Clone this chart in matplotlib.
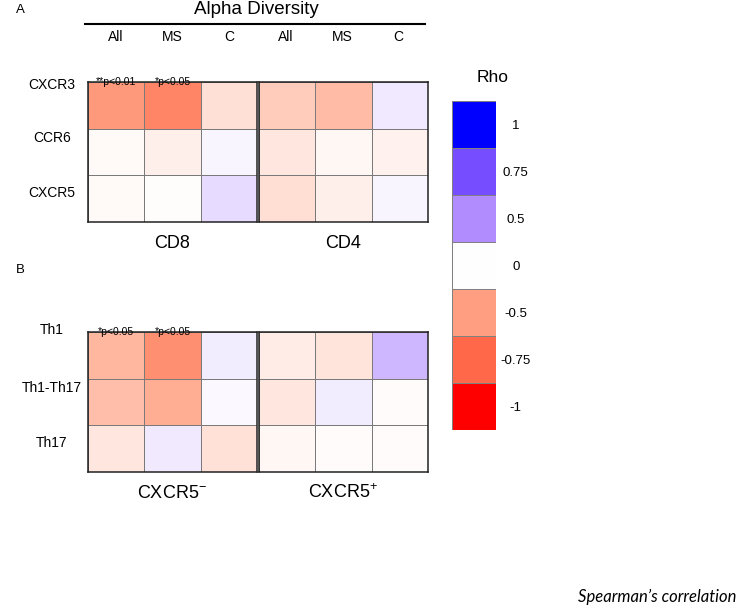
import matplotlib
matplotlib.use("Agg")
import matplotlib.pyplot as plt
from matplotlib.colors import LinearSegmentedColormap
import numpy as np

plt.rcParams['font.family'] = ['Liberation Sans', 'DejaVu Sans']

# data (Spearman rho)
cols = ['All', 'MS', 'C']
rows_a = ['CXCR3', 'CCR6', 'CXCR5']
cd8 = [[-0.52, -0.61, -0.16],
       [-0.03, -0.08, 0.04],
       [-0.03, -0.01, 0.15]]
cd4 = [[-0.27, -0.35, 0.10],
       [-0.13, -0.04, -0.07],
       [-0.17, -0.08, 0.04]]
rows_b = ['Th1', 'Th1-Th17', 'Th17']
cxcr5_neg = [[-0.37, -0.57, 0.08],
             [-0.33, -0.42, 0.03],
             [-0.12, 0.09, -0.15]]
cxcr5_pos = [[-0.10, -0.14, 0.32],
             [-0.12, 0.08, -0.02],
             [-0.04, -0.02, -0.02]]
sig_a = {(0, 0): '**p<0.01', (0, 1): '*p<0.05'}
sig_b = {(0, 0): '*p<0.05', (0, 1): '*p<0.05'}
cbar_levels = [1, 0.75, 0.5, 0, -0.5, -0.75, -1]
cbar_labels = ['1', '0.75', '0.5', '0', '-0.5', '-0.75', '-1']

cmap = LinearSegmentedColormap.from_list('rho', [
    (0.0, '#FF0000'), (0.125, '#FF6848'), (0.25, '#FF9E80'), (0.5, '#FFFFFF'),
    (0.75, '#B28DFF'), (0.875, '#7A50FF'), (1.0, '#0000FF')])

W, H = 740, 607
fig = plt.figure(figsize=(W / 100, H / 100), dpi=100)


def px_axes(x0, y0, x1, y1):
    return fig.add_axes([x0 / W, 1 - y1 / H, (x1 - x0) / W, (y1 - y0) / H])


def block(x0, y0, x1, y1, vals):
    ax = px_axes(x0, y0, x1, y1)
    ax.pcolormesh(np.array(vals), cmap=cmap, vmin=-1, vmax=1,
                  edgecolors='#7a7a7a', linewidth=0.7)
    ax.set_xlim(0, 3)
    ax.set_ylim(3, 0)
    ax.set_xticks([])
    ax.set_yticks([])
    for s in ax.spines.values():
        s.set_linewidth(1.1)
        s.set_color('#222222')
    return ax


def panel(y0, y1, left, right, rows, sig, labels, row_y):
    axl = block(88, y0, 257, y1, left)
    block(259, y0, 428, y1, right)
    for (r, c), t in sig.items():
        axl.text(c + 0.5, r, t, ha='center', va='center', fontsize=7.5,
                 clip_on=False)
    for name, yy in zip(rows, row_y):
        fig.text(52 / W, 1 - yy / H, name, ha='center', va='center', fontsize=10)
    for t, xx in zip(labels, [172, 343]):
        fig.text(xx / W, 1 - (y1 + 21) / H, t, ha='center', va='center',
                 fontsize=13)


# panel A
fig.text(20 / W, 1 - 10 / H, 'A', ha='center', va='center', fontsize=9.5)
fig.text(256 / W, 1 - 9 / H, 'Alpha Diversity', ha='center', va='center',
         fontsize=13.5)
fig.add_artist(plt.Line2D([85 / W, 425 / W], [1 - 24 / H, 1 - 24 / H],
                          color='black', linewidth=1.5))
for i, c in enumerate(cols * 2):
    fig.text((116 + 56.5 * i) / W, 1 - 37 / H, c, ha='center', va='center',
             fontsize=10)
panel(82, 222, cd8, cd4, rows_a, sig_a, ['CD8', 'CD4'], [85, 138, 193])

# panel B
fig.text(20 / W, 1 - 270 / H, 'B', ha='center', va='center', fontsize=9.5)
panel(332, 472, cxcr5_neg, cxcr5_pos, rows_b, sig_b,
      ['CXCR5$^{\\mathregular{-}}$', 'CXCR5$^{\\mathregular{+}}$'],
      [330, 388, 443])

# colour key
cax = px_axes(452, 101, 496, 430)
cax.pcolormesh(np.array(cbar_levels).reshape(-1, 1), cmap=cmap, vmin=-1, vmax=1,
               edgecolors='#808080', linewidth=0.6)
cax.set_ylim(len(cbar_levels), 0)
cax.set_xticks([])
cax.set_yticks(np.arange(len(cbar_levels)) + 0.5)
cax.set_yticklabels(cbar_labels, fontsize=9.5)
cax.yaxis.tick_right()
cax.tick_params(axis='y', length=0, pad=0)
for lab in cax.get_yticklabels():
    lab.set_horizontalalignment('center')
    lab.set_x(1.45)
for s in cax.spines.values():
    s.set_visible(False)
fig.text(493 / W, 1 - 78 / H, 'Rho', ha='center', va='center', fontsize=12.5)

fig.text(736 / W, 1 - 597 / H, 'Spearman\u2019s correlation', ha='right',
         va='center', fontsize=12, style='italic', family=['Lato', 'DejaVu Sans'])

fig.savefig('out.png', dpi=100)
